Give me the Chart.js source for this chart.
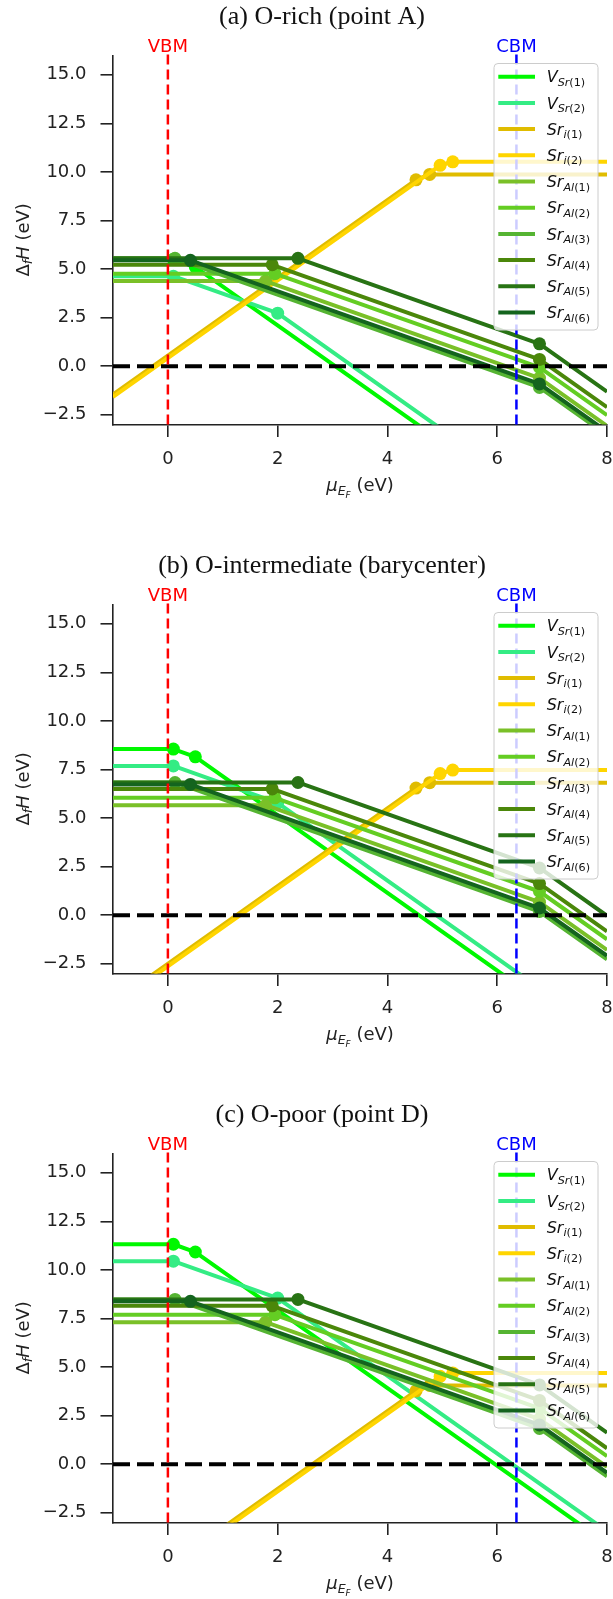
<!DOCTYPE html>
<html>
<head>
<meta charset="utf-8">
<script src="https://cdn.jsdelivr.net/npm/chart.js@4"></script>
<style>
    html, body { margin: 0; padding: 0; background: #fff; overflow: hidden; }
    #wrap { position: relative; width: 613px; height: 1599px; }
    canvas { position: absolute; left: 0; }
</style>
</head>
<body>
<div id="wrap">
    <canvas id="panel-a" width="613" height="549" style="top:0"></canvas>
    <canvas id="panel-b" width="613" height="549" style="top:549px"></canvas>
    <canvas id="panel-c" width="613" height="501" style="top:1098px"></canvas>
</div>
<script>
const defectLabels = ['V_{Sr(1)}', 'V_{Sr(2)}', 'Sr_{i(1)}', 'Sr_{i(2)}',
    'Sr_{Al(1)}', 'Sr_{Al(2)}', 'Sr_{Al(3)}', 'Sr_{Al(4)}', 'Sr_{Al(5)}', 'Sr_{Al(6)}']
const defectColors = ['#00f800', '#34ec84', '#e0bc00', '#ffd500',
    '#7ac028', '#64cd23', '#55b432', '#4b870a', '#287314', '#14641e']

const xTicks = [0, 2, 4, 6, 8]
const yTicks = [-2.5, 0, 2.5, 5, 7.5, 10, 12.5, 15]
const vbm = 0
const cbm = 6.35

const panelTitles = ['(a) O-rich (point A)', '(b) O-intermediate (barycenter)', '(c) O-poor (point D)']

// [mu_EF, formation energy] vertices for each defect; inner vertices are the transition levels
const oRich = [
    [[-1, 5.50], [0.10, 5.50], [0.50, 5.10], [8, -9.90]],
    [[-1, 4.63], [0.10, 4.63], [2.00, 2.73], [8, -9.27]],
    [[-1, -1.45], [4.52, 9.59], [4.77, 9.87], [8, 9.87]],
    [[-1, -1.58], [4.96, 10.34], [5.19, 10.52], [8, 10.52]],
    [[-1, 4.38], [1.78, 4.38], [6.77, -0.61], [8, -3.07]],
    [[-1, 4.76], [1.95, 4.76], [6.77, -0.06], [8, -2.52]],
    [[-1, 5.55], [0.13, 5.55], [6.77, -1.09], [8, -3.55]],
    [[-1, 5.22], [1.90, 5.22], [6.77, 0.35], [8, -2.11]],
    [[-1, 5.55], [2.37, 5.55], [6.77, 1.15], [8, -1.31]],
    [[-1, 5.45], [0.41, 5.45], [6.77, -0.91], [8, -3.37]],
]
const oMid = [
    [[-1, 8.55], [0.10, 8.55], [0.50, 8.15], [8, -6.85]],
    [[-1, 7.68], [0.10, 7.68], [2.00, 5.78], [8, -6.22]],
    [[-1, -4.50], [4.52, 6.54], [4.77, 6.82], [8, 6.82]],
    [[-1, -4.63], [4.96, 7.29], [5.19, 7.47], [8, 7.47]],
    [[-1, 5.66], [1.78, 5.66], [6.77, 0.67], [8, -1.79]],
    [[-1, 6.04], [1.95, 6.04], [6.77, 1.22], [8, -1.24]],
    [[-1, 6.83], [0.13, 6.83], [6.77, 0.19], [8, -2.27]],
    [[-1, 6.50], [1.90, 6.50], [6.77, 1.63], [8, -0.83]],
    [[-1, 6.83], [2.37, 6.83], [6.77, 2.43], [8, -0.03]],
    [[-1, 6.73], [0.41, 6.73], [6.77, 0.37], [8, -2.09]],
]
const oPoor = [
    [[-1, 11.32], [0.10, 11.32], [0.50, 10.92], [8, -4.08]],
    [[-1, 10.45], [0.10, 10.45], [2.00, 8.55], [8, -3.45]],
    [[-1, -7.27], [4.52, 3.77], [4.77, 4.05], [8, 4.05]],
    [[-1, -7.40], [4.96, 4.52], [5.19, 4.70], [8, 4.70]],
    [[-1, 7.31], [1.78, 7.31], [6.77, 2.32], [8, -0.14]],
    [[-1, 7.69], [1.95, 7.69], [6.77, 2.87], [8, 0.41]],
    [[-1, 8.48], [0.13, 8.48], [6.77, 1.84], [8, -0.62]],
    [[-1, 8.15], [1.90, 8.15], [6.77, 3.28], [8, 0.82]],
    [[-1, 8.48], [2.37, 8.48], [6.77, 4.08], [8, 1.62]],
    [[-1, 8.38], [0.41, 8.38], [6.77, 2.02], [8, -0.44]],
]

const X_MIN = -1, X_MAX = 8, Y_MIN = -3, Y_MAX = 16
const AREA_TOP = 55.3
const AREA_BOTTOM = 424.5
const INK = '#222'

// split 'Sr_{Al(1)}' into runs: letters italic, digits/brackets upright, sub at level 1
const toRuns = (text, level) => text.match(/[A-Za-z]+|[^A-Za-z]+/g)
    .map(t => ({ t, level, italic: /[A-Za-z]/.test(t) }))

const labelRuns = (label) => {
    const [base, sub] = label.split('_')
    return [...toRuns(base, 0), ...toRuns(sub.replace(/[{}]/g, ''), 1)]
}

const runFont = (run, size) => {
    let px = size * Math.pow(0.7, run.level)
    return (run.italic ? 'italic ' : '') + px.toFixed(1) + 'px "DejaVu Sans"'
}

const runsWidth = (ctx, runs, size) => runs.reduce((w, r) => {
    ctx.font = runFont(r, size)
    return w + ctx.measureText(r.t).width
}, 0)

const drawRuns = (ctx, runs, x, y, size) => {
    ctx.textAlign = 'left'
    ctx.textBaseline = 'alphabetic'
    runs.forEach(r => {
        ctx.font = runFont(r, size)
        let drop = 0
        for (let l = 0; l < r.level; l++) drop += size * Math.pow(0.7, l) * 0.22
        ctx.fillText(r.t, x, y + drop)
        x += ctx.measureText(r.t).width
    })
}

const yLabelRuns = [
    { t: '\u0394', level: 0, italic: false },
    { t: 'f', level: 1, italic: true },
    { t: 'H', level: 0, italic: true },
    { t: ' (eV)', level: 0, italic: false },
]
const xLabelRuns = [
    { t: '\u03bc', level: 0, italic: true },
    { t: 'E', level: 1, italic: true },
    { t: 'F', level: 2, italic: true },
    { t: ' (eV)', level: 0, italic: false },
]

const drawLegend = (ctx, area) => {
    const right = area.right - 9
    const left = right - 104
    const top = area.top + 8.2
    const height = 266.5

    ctx.save()
    ctx.beginPath()
    ctx.roundRect(left, top, right - left, height, 4)
    ctx.fillStyle = 'rgba(255,255,255,0.8)'
    ctx.fill()
    ctx.strokeStyle = '#cccccc'
    ctx.lineWidth = 1
    ctx.stroke()

    defectLabels.forEach((label, i) => {
        let y = top + 13.2 + i * 26.2
        ctx.strokeStyle = defectColors[i]
        ctx.lineWidth = 4
        ctx.beginPath()
        ctx.moveTo(left + 4.3, y)
        ctx.lineTo(left + 41, y)
        ctx.stroke()
        ctx.fillStyle = '#111'
        drawRuns(ctx, labelRuns(label), left + 52.7, y + 5.6, 16)
    })
    ctx.restore()
}

const decorPlugin = {
    id: 'decor',
    afterDraw(chart) {
        const { ctx, chartArea } = chart
        const xs = chart.scales.x
        const title = chart.options.plugins.decor.title

        ctx.save()
        ctx.fillStyle = '#111'
        ctx.font = '26px "Liberation Serif"'
        ctx.textAlign = 'center'
        ctx.textBaseline = 'middle'
        ctx.fillText(title, 322, chartArea.top - 37.8)

        ctx.font = '18px "DejaVu Sans"'
        ctx.textBaseline = 'alphabetic'
        ctx.fillStyle = '#ff0000'
        ctx.fillText('VBM', xs.getPixelForValue(vbm), chartArea.top - 3.7)
        ctx.fillStyle = '#0000ff'
        ctx.fillText('CBM', xs.getPixelForValue(cbm), chartArea.top - 3.7)

        ctx.fillStyle = INK
        let w = runsWidth(ctx, xLabelRuns, 18)
        drawRuns(ctx, xLabelRuns, (chartArea.left + chartArea.right) / 2 - w / 2, chartArea.bottom + 66.5, 18)

        ctx.translate(28.5, (chartArea.top + chartArea.bottom) / 2)
        ctx.rotate(-Math.PI / 2)
        w = runsWidth(ctx, yLabelRuns, 18)
        drawRuns(ctx, yLabelRuns, -w / 2, 0, 18)
        ctx.restore()

        drawLegend(ctx, chartArea)
    }
}

const refLine = (pts, color, width, dash, order) => ({
    data: pts.map(([x, y]) => ({ x, y })),
    borderColor: color,
    borderWidth: width,
    borderDash: dash,
    pointRadius: 0,
    fill: false,
    clip: false,
    order: order,
})

const buildPanel = (canvasId, title, series) => {
    const canvas = document.getElementById(canvasId)
    const xAxisHeight = canvas.height - AREA_BOTTOM

    const datasets = series.map((pts, i) => ({
        label: defectLabels[i],
        data: pts.map(([x, y]) => ({ x, y })),
        borderColor: defectColors[i],
        backgroundColor: defectColors[i],
        pointBackgroundColor: defectColors[i],
        borderWidth: 4,
        borderJoinStyle: 'round',
        tension: 0,
        fill: false,
        pointRadius: (c) => (c.dataIndex === 0 || c.dataIndex === pts.length - 1) ? 0 : 6.5,
        pointBorderWidth: 0,
        clip: 0,
        order: -i,
    }))

    datasets.push(refLine([[X_MIN, 0], [X_MAX, 0]], '#000', 4, [17, 7], -100))
    datasets.push(refLine([[vbm, Y_MIN], [vbm, Y_MAX + 0.15]], '#ff0000', 2.5, [10, 5], -101))
    datasets.push(refLine([[cbm, Y_MIN], [cbm, Y_MAX + 0.15]], '#0000ff', 2.5, [10, 5], -102))

    new Chart(canvas, {
        type: 'line',
        data: { datasets },
        options: {
            responsive: false,
            animation: false,
            devicePixelRatio: 1,
            events: [],
            layout: { padding: { top: AREA_TOP, right: 6, bottom: 0, left: 0 } },
            plugins: {
                legend: { display: false },
                tooltip: { enabled: false },
                decor: { title },
            },
            scales: {
                x: {
                    type: 'linear',
                    min: X_MIN,
                    max: X_MAX,
                    afterBuildTicks: (s) => { s.ticks = xTicks.map(value => ({ value })) },
                    afterFit: (s) => { s.height = xAxisHeight; s.paddingLeft = 0; s.paddingRight = 0 },
                    ticks: {
                        autoSkip: false,
                        maxRotation: 0,
                        padding: 12,
                        color: INK,
                        font: { family: 'DejaVu Sans', size: 18 },
                        callback: (v) => String(v),
                    },
                    grid: { drawOnChartArea: false, drawTicks: true, tickLength: 12.5, color: INK, lineWidth: 1.6 },
                    border: { display: true, color: INK, width: 1.6 },
                },
                y: {
                    type: 'linear',
                    min: Y_MIN,
                    max: Y_MAX,
                    afterBuildTicks: (s) => { s.ticks = yTicks.map(value => ({ value })) },
                    afterFit: (s) => { s.width = 113; s.paddingTop = 0; s.paddingBottom = 0 },
                    ticks: {
                        padding: 14,
                        color: INK,
                        font: { family: 'DejaVu Sans', size: 18 },
                        callback: (v) => (v < 0 ? '\u2212' : '') + Math.abs(v).toFixed(1),
                    },
                    grid: { drawOnChartArea: false, drawTicks: true, tickLength: 12.5, color: INK, lineWidth: 1.6 },
                    border: { display: true, color: INK, width: 1.6 },
                },
            },
        },
        plugins: [decorPlugin],
    })
}

buildPanel('panel-a', panelTitles[0], oRich)
buildPanel('panel-b', panelTitles[1], oMid)
buildPanel('panel-c', panelTitles[2], oPoor)
</script>
</body>
</html>
